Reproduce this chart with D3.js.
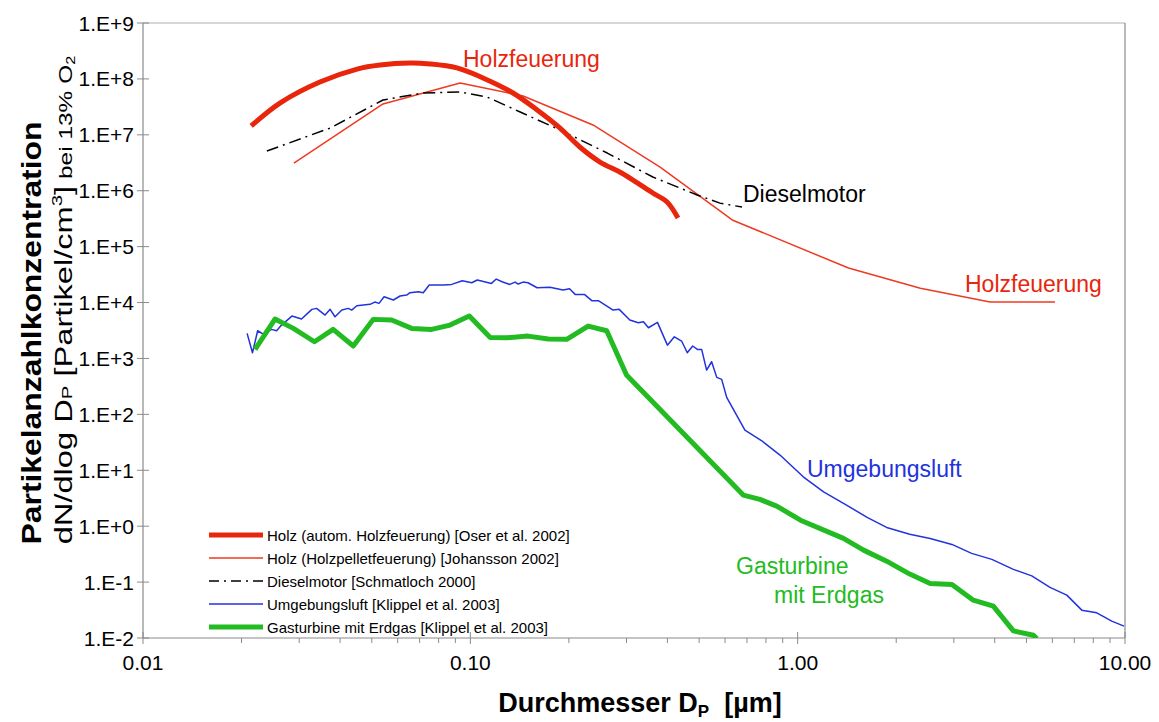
<!DOCTYPE html>
<html><head><meta charset="utf-8">
<script src="https://cdn.jsdelivr.net/npm/d3@7"></script>
<style>body{margin:0;background:#fff} text{font-family:"Liberation Sans",Arial,sans-serif}</style>
</head><body><svg id="c" width="1159" height="722"></svg>
<script>
// ---- data ----
const oserDiameter = [0.0214,0.0262,0.0347,0.0451,0.0530,0.0654,0.0753,0.0910,0.1093,0.135,0.160,0.188,0.216,0.249,0.286,0.314,0.361,0.399,0.431];
const oserConc     = [1.44e7,3.7e7,8.8e7,1.50e8,1.77e8,1.92e8,1.85e8,1.57e8,1.04e8,5.6e7,2.78e7,1.32e7,6.05e6,3.26e6,2.16e6,1.55e6,9.1e5,6.3e5,3.25e5];

const johanssonDiameter = [0.0289,0.0541,0.0931,0.145,0.237,0.380,0.631,1.43,2.37,3.87,6.11];
const johanssonConc     = [3.13e6,3.56e7,8.45e7,4.94e7,1.5e7,2.65e6,3.0e5,4.14e4,1.8e4,1.02e4,1.02e4];

const dieselDiameter = [0.0239,0.0373,0.0541,0.0717,0.0931,0.1125,0.142,0.188,0.262,0.361,0.493,0.579,0.676];
const dieselConc     = [5.13e6,1.32e7,4.2e7,5.6e7,5.83e7,4.74e7,2.56e7,1.22e7,4.72e6,1.76e6,8.4e5,6.0e5,5.1e5];

const ambientDiameter = [0.0208,0.0216,0.0224,0.0233,0.0247,0.0256,0.0265,0.0285,0.0305,0.0328,0.0339,0.0360,0.0373,0.0386,0.0405,0.0424,0.0434,0.0450,0.0494,0.0511,0.0526,0.0545,0.0582,0.0610,0.0639,0.0654,0.0694,0.0718,0.0749,0.0827,0.0877,0.0945,0.101,0.105,0.116,0.120,0.125,0.132,0.137,0.140,0.145,0.150,0.160,0.175,0.192,0.201,0.209,0.223,0.235,0.246,0.273,0.285,0.307,0.326,0.338,0.350,0.373,0.400,0.420,0.442,0.460,0.478,0.494,0.509,0.527,0.546,0.566,0.586,0.607,0.690,0.777,0.883,1.04,1.20,1.41,1.63,1.87,2.20,2.54,2.96,3.40,3.92,4.56,5.19,5.90,6.64,7.38,8.20,9.11,9.93];
const ambientConc     = [2810,1265,3130,2730,3310,3130,3950,5730,5070,7550,7870,5970,7550,5570,7340,7870,7340,8750,9290,10200,9670,12700,11100,13100,13600,15000,15600,15000,20600,20600,21100,24500,22600,25300,22000,26300,23500,21100,23200,21400,23200,22600,18400,18700,16700,17600,14000,14000,10800,10800,7340,7550,4860,4350,4530,3540,4420,1730,2440,2050,1265,1670,1450,1450,620,873,459,423,201,52.4,33.7,18.7,7.64,4.12,2.38,1.44,0.95,0.72,0.604,0.472,0.326,0.255,0.169,0.129,0.0803,0.0585,0.0315,0.0282,0.0200,0.0163];

const turbineDiameter = [0.0220,0.0253,0.0288,0.0334,0.0381,0.0439,0.0505,0.0575,0.0662,0.0762,0.0867,0.0993,0.115,0.129,0.150,0.173,0.197,0.229,0.261,0.300,0.682,0.767,0.863,1.02,1.38,1.59,1.87,2.20,2.54,2.96,3.44,3.96,4.56,5.25,5.38];
const turbineConc     = [1450,5070,3450,1990,3310,1670,5000,4860,3450,3310,3950,5730,2380,2340,2510,2220,2200,3790,3130,505,3.60,3.01,2.29,1.28,0.604,0.373,0.237,0.139,0.0947,0.0908,0.0475,0.0372,0.0134,0.0112,0.0098];

const seriesNames = ["Holz (autom. Holzfeuerung) [Oser et al. 2002]","Holz (Holzpelletfeuerung) [Johansson 2002]","Dieselmotor [Schmatloch 2000]","Umgebungsluft [Klippel et al. 2003]","Gasturbine mit Erdgas [Klippel et al. 2003]"];

const yTickValues = [1e9,1e8,1e7,1e6,1e5,1e4,1e3,1e2,1e1,1e0,1e-1,1e-2];
const yTickLabels = ["1.E+9","1.E+8","1.E+7","1.E+6","1.E+5","1.E+4","1.E+3","1.E+2","1.E+1","1.E+0","1.E-1","1.E-2"];
const xTickValues = [0.01,0.1,1,10];
const xTickLabels = ["0.01","0.10","1.00","10.00"];

// ---- layout ----
const svg = d3.select("#c");
const L=143, R=1125, T=23, B=638;
const x = d3.scaleLog().domain([0.01,10]).range([L,R]);
const y = d3.scaleLog().domain([1e-2,1e9]).range([B,T]);
const frame="#8a8a8a";

svg.append("defs").append("clipPath").attr("id","clip").append("rect")
  .attr("x",L).attr("y",T).attr("width",R-L).attr("height",B-T);

// frame top/right
svg.append("line").attr("x1",L).attr("x2",R).attr("y1",T).attr("y2",T).attr("stroke","#b0b0b0").attr("stroke-width",1.2);
svg.append("line").attr("x1",R).attr("x2",R).attr("y1",T).attr("y2",B).attr("stroke",frame).attr("stroke-width",1.2);

// y axis minor+major
const yMinor = y.ticks().filter(v => !yTickValues.some(t => Math.abs(Math.log10(t)-Math.log10(v))<1e-6));
const yAx = svg.append("g").attr("transform",`translate(${L},0)`);
yAx.append("line").attr("x1",0).attr("x2",0).attr("y1",T).attr("y2",B).attr("stroke",frame).attr("stroke-width",1.2);
yAx.selectAll("line.mn").data(yMinor).join("line").attr("class","mn")
  .attr("x1",-5).attr("x2",0).attr("y1",d=>y(d)).attr("y2",d=>y(d)).attr("stroke",frame);
yAx.selectAll("line.mj").data(yTickValues).join("line").attr("class","mj")
  .attr("x1",-6).attr("x2",6).attr("y1",d=>y(d)).attr("y2",d=>y(d)).attr("stroke",frame);
yAx.selectAll("text").data(yTickValues).join("text")
  .attr("x",-9).attr("y",d=>y(d)).attr("dy","0.36em").attr("text-anchor","end")
  .attr("font-size",21).attr("fill","#000").text((d,i)=>yTickLabels[i]);

// x axis
const xMinor = x.ticks().filter(v => !xTickValues.some(t => Math.abs(Math.log10(t)-Math.log10(v))<1e-6));
const xAx = svg.append("g").attr("transform",`translate(0,${B})`);
xAx.append("line").attr("x1",L).attr("x2",R).attr("y1",0).attr("y2",0).attr("stroke",frame).attr("stroke-width",1.2);
xAx.selectAll("line.mn").data(xMinor).join("line").attr("class","mn")
  .attr("x1",d=>x(d)).attr("x2",d=>x(d)).attr("y1",0).attr("y2",5).attr("stroke",frame);
xAx.selectAll("line.mj").data(xTickValues).join("line").attr("class","mj")
  .attr("x1",d=>x(d)).attr("x2",d=>x(d)).attr("y1",-6).attr("y2",6).attr("stroke",frame);
xAx.selectAll("text").data(xTickValues).join("text")
  .attr("x",d=>x(d)).attr("y",32).attr("text-anchor","middle")
  .attr("font-size",21).attr("fill","#000").text((d,i)=>xTickLabels[i]);

// series
const zip=(a,b)=>a.map((v,i)=>[v,b[i]]);
const line = d3.line().x(d=>x(d[0])).y(d=>y(d[1]));
const g = svg.append("g").attr("clip-path","url(#clip)");
const series = [
  {name:seriesNames[3], data:zip(ambientDiameter,ambientConc), color:"#2233dd", w:1.5, dash:null},
  {name:seriesNames[4], data:zip(turbineDiameter,turbineConc), color:"#22bb22", w:5, dash:null},
  {name:seriesNames[1], data:zip(johanssonDiameter,johanssonConc), color:"#ee3a22", w:1.5, dash:null},
  {name:seriesNames[2], data:zip(dieselDiameter,dieselConc), color:"#000", w:1.5, dash:"12,5,2,5"},
  {name:seriesNames[0], data:zip(oserDiameter,oserConc), color:"#e8260c", w:5, dash:null, curve:d3.curveCatmullRom}
];
series.forEach(s=>{
  const ln = s.curve ? d3.line().curve(s.curve).x(d=>x(d[0])).y(d=>y(d[1])) : line;
  g.append("path").attr("d",ln(s.data)).attr("fill","none").attr("stroke",s.color)
   .attr("stroke-width",s.w).attr("stroke-linejoin","round").attr("stroke-dasharray",s.dash);
});

// legend
const legendOrder=[
  {name:seriesNames[0],color:"#e8260c",w:5,dash:null},
  {name:seriesNames[1],color:"#ee3a22",w:1.5,dash:null},
  {name:seriesNames[2],color:"#000",w:1.5,dash:"10,5,2,5"},
  {name:seriesNames[3],color:"#2233dd",w:1.5,dash:null},
  {name:seriesNames[4],color:"#22bb22",w:5,dash:null}
];
const lg = svg.append("g");
legendOrder.forEach((s,i)=>{
  const yy = 535 + i*23;
  lg.append("line").attr("x1",209).attr("x2",263).attr("y1",yy).attr("y2",yy)
    .attr("stroke",s.color).attr("stroke-width",s.w).attr("stroke-dasharray",s.dash);
  lg.append("text").attr("x",267).attr("y",yy+5.5).attr("font-size",15).attr("fill","#000").text(s.name);
});

// annotations
const ann = (t,xx,yy,c,anchor)=>svg.append("text").attr("x",xx).attr("y",yy).attr("font-size",23)
  .attr("fill",c).attr("text-anchor",anchor||"start").text(t);
ann("Holzfeuerung",463,67,"#e8260c");
ann("Dieselmotor",743,202,"#000");
ann("Holzfeuerung",965,292,"#e8260c");
ann("Umgebungsluft",807,477,"#2233dd");
ann("Gasturbine",736,574,"#22bb22");
ann("mit Erdgas",774,603,"#22bb22");

// axis titles
svg.append("text").attr("x",640).attr("y",712).attr("text-anchor","middle")
  .attr("font-size",27).attr("font-weight","bold").attr("fill","#000")
  .call(t=>{t.append("tspan").text("Durchmesser D");
            t.append("tspan").attr("font-size",17).attr("dy",5).text("P");
            t.append("tspan").attr("dy",-5).text("\u00a0 [µm]");});

svg.append("text").attr("transform","translate(41,333) rotate(-90) scale(1.18,1)").attr("text-anchor","middle")
  .attr("font-size",27).attr("font-weight","bold").attr("fill","#000").text("Partikelanzahlkonzentration");

svg.append("text").attr("transform","translate(72,300) rotate(-90) scale(1.36,1)").attr("text-anchor","middle")
  .attr("font-size",24).attr("fill","#000")
  .call(t=>{t.append("tspan").text("dN/dlog D");
            t.append("tspan").attr("font-size",15).text("P");
            t.append("tspan").text(" [Partikel/cm");
            t.append("tspan").attr("font-size",15).attr("dy",-10).text("3");
            t.append("tspan").attr("dy",10).text("]");
            t.append("tspan").attr("font-size",18).text(" bei 13% O");
            t.append("tspan").attr("font-size",12).attr("dy",3).text("2");});
</script></body></html>
